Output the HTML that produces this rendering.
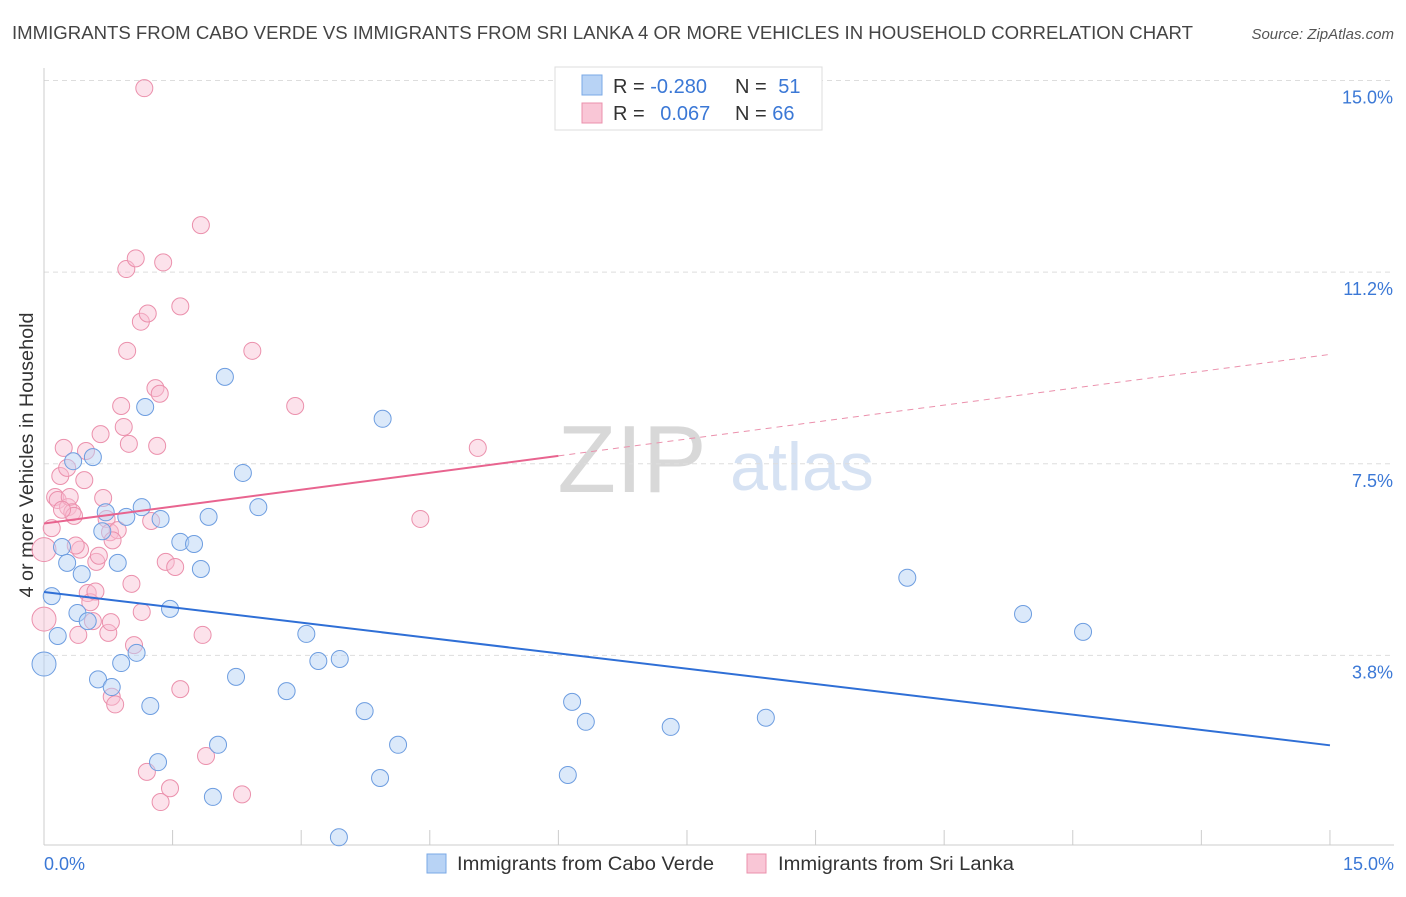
<!DOCTYPE html>
<html><head><meta charset="utf-8"><style>
body{margin:0;background:#fff;font-family:"Liberation Sans",sans-serif;}
svg text{font-family:"Liberation Sans",sans-serif;}
</style></head><body>
<svg id="chart" width="1406" height="892">
<text x="12" y="39" font-size="18" fill="#444" textLength="1181" lengthAdjust="spacingAndGlyphs">IMMIGRANTS FROM CABO VERDE VS IMMIGRANTS FROM SRI LANKA 4 OR MORE VEHICLES IN HOUSEHOLD CORRELATION CHART</text>
<text x="1394" y="39" font-size="15" fill="#555" text-anchor="end" font-style="italic">Source: ZipAtlas.com</text>
<text x="33" y="455" font-size="19" fill="#333" text-anchor="middle" transform="rotate(-90 33 455)" textLength="285" lengthAdjust="spacingAndGlyphs">4 or more Vehicles in Household</text>
<text x="632" y="492" font-size="96" fill="#d8d8d8" font-family="Liberation Serif" text-anchor="middle">ZIP</text>
<text x="802" y="490" font-size="68" fill="#d6e2f3" text-anchor="middle">atlas</text>
<g id="grid"></g><g id="marks"></g>
<g>
<rect x="555" y="67" width="267" height="63" fill="#fff" stroke="#ddd"/>
<rect x="582" y="75" width="20" height="20" fill="#b8d3f5" stroke="#7aa8e6"/>
<rect x="582" y="103" width="20" height="20" fill="#f9c6d6" stroke="#eb90ac"/>
<text x="613" y="93" font-size="20" fill="#333">R = <tspan fill="#3b78d6">-0.280</tspan></text>
<text x="735" y="93" font-size="20" fill="#333">N = <tspan fill="#3b78d6" dx="6">51</tspan></text>
<text x="613" y="120" font-size="20" fill="#333">R = <tspan fill="#3b78d6" dx="10">0.067</tspan></text>
<text x="735" y="120" font-size="20" fill="#333">N = <tspan fill="#3b78d6">66</tspan></text>
</g>
<g>
<rect x="427" y="854" width="19" height="19" fill="#b8d3f5" stroke="#7aa8e6"/>
<text x="457" y="870" font-size="19" fill="#333" textLength="257" lengthAdjust="spacingAndGlyphs">Immigrants from Cabo Verde</text>
<rect x="747" y="854" width="19" height="19" fill="#f9c6d6" stroke="#eb90ac"/>
<text x="778" y="870" font-size="19" fill="#333" textLength="236" lengthAdjust="spacingAndGlyphs">Immigrants from Sri Lanka</text>
</g>
</svg>
<script>
const yTicks=[15.0,11.25,7.5,3.75];
const yTickLabels=["15.0%","11.2%","7.5%","3.8%"];
const blueX=[0,0.09,0.16,0.21,0.27,0.34,0.39,0.44,0.51,0.57,0.63,0.68,0.72,0.79,0.86,0.90,0.96,1.08,1.14,1.18,1.24,1.33,1.36,1.47,1.59,1.75,1.83,1.92,1.97,2.03,2.11,2.24,2.32,2.50,2.83,3.06,3.20,3.44,3.45,3.74,3.92,3.95,4.13,6.11,6.16,6.32,7.31,8.42,10.07,11.42,12.12];
const blueY=[3.58,4.91,4.13,5.87,5.56,7.55,4.58,5.34,4.42,7.63,3.28,6.18,6.55,3.13,5.56,3.60,6.46,3.80,6.65,8.61,2.76,1.66,6.42,4.66,5.97,5.93,5.44,6.46,0.98,2.00,9.20,3.33,7.32,6.65,3.05,4.17,3.64,0.19,3.68,2.66,1.35,8.38,2.00,1.41,2.84,2.45,2.35,2.53,5.27,4.56,4.21];
const pinkX=[0,0,0.09,0.13,0.16,0.19,0.23,0.27,0.28,0.30,0.33,0.35,0.40,0.42,0.47,0.49,0.51,0.54,0.57,0.61,0.64,0.66,0.69,0.73,0.75,0.77,0.78,0.79,0.83,0.86,0.90,0.93,0.96,0.97,0.99,1.02,1.05,1.07,1.13,1.14,1.17,1.20,1.21,1.25,1.30,1.32,1.35,1.36,1.39,1.42,1.47,1.53,1.59,1.59,1.83,1.85,1.89,2.31,2.43,2.93,4.39,5.06,0.21,0.60,0.37,0.80];
const pinkY=[5.82,4.46,6.24,6.85,6.79,7.26,7.81,7.42,6.65,6.85,6.55,6.48,4.15,5.82,7.18,7.75,4.97,4.79,4.42,5.58,5.70,8.08,6.83,6.42,4.19,6.16,4.40,2.94,2.79,6.20,8.63,8.22,11.31,9.71,7.89,5.15,3.95,11.52,10.28,4.60,14.85,1.47,10.44,6.38,8.98,7.85,8.87,0.88,11.44,5.58,1.15,5.48,3.09,10.58,12.17,4.15,1.78,1.03,9.71,8.63,6.42,7.81,6.60,5.00,5.90,6.00];
const blueLine=[4.99,1.99];
const pinkLine=[6.33,9.64];
const X=v=>44+v*85.73, Y=v=>847-v*51.1;
const NS="http://www.w3.org/2000/svg";
const grid=document.getElementById('grid'),marks=document.getElementById('marks');
function mk(tag,at,par){const e=document.createElementNS(NS,tag);for(const k in at)e.setAttribute(k,at[k]);par.appendChild(e);return e;}
yTicks.forEach((t,i)=>{
 const l=mk('line',{x1:44,x2:1394,y1:Y(t),y2:Y(t),stroke:'#ddd','stroke-dasharray':'5,4'},grid);
 
 
 const tx=mk('text',{x:1393,y:Y(t)+23,'font-size':18,fill:'#3b78d6','text-anchor':'end'},grid);tx.textContent=yTickLabels[i];
 
 
});
const ax=mk('line',{x1:44,x2:1394,y1:845,y2:845,stroke:'#ccc'},grid);


const ay=mk('line',{x1:44,x2:44,y1:68,y2:845,stroke:'#ccc'},grid);


for(let i=1;i<=10;i++){const t=mk('line',{x1:X(i*1.5),x2:X(i*1.5),y1:830,y2:845,stroke:'#ccc'},grid);
 
 }
[["0.0%",44,'start'],["15.0%",1394,'end']].forEach(a=>{const t=mk('text',{x:a[1],y:870,'font-size':18,fill:'#3b78d6','text-anchor':a[2]},grid);t.textContent=a[0];
 
 });
pinkX.forEach((x,i)=>{const c=mk('circle',{cx:X(x),cy:Y(pinkY[i]),r:(x==0?12:8.5),fill:'rgba(249,190,210,0.45)',stroke:'#eb90ac','stroke-width':1},marks);
 
 });
blueX.forEach((x,i)=>{const c=mk('circle',{cx:X(x),cy:Y(blueY[i]),r:(x==0?12:8.5),fill:'rgba(184,211,245,0.5)',stroke:'#6d9de0','stroke-width':1},marks);
 
 });
const bl=mk('line',{x1:X(0),y1:Y(blueLine[0]),x2:X(15),y2:Y(blueLine[1]),stroke:'#2f6fd6','stroke-width':2},marks);


const pm=pinkLine[0]+(pinkLine[1]-pinkLine[0])*0.4;
const pl=mk('line',{x1:X(0),y1:Y(pinkLine[0]),x2:X(6),y2:Y(pm),stroke:'#e8648f','stroke-width':2},marks);


const pd=mk('line',{x1:X(6),y1:Y(pm),x2:X(15),y2:Y(pinkLine[1]),stroke:'#eb90ac','stroke-width':1,'stroke-dasharray':'6,5'},marks);


</script>
</body></html>
